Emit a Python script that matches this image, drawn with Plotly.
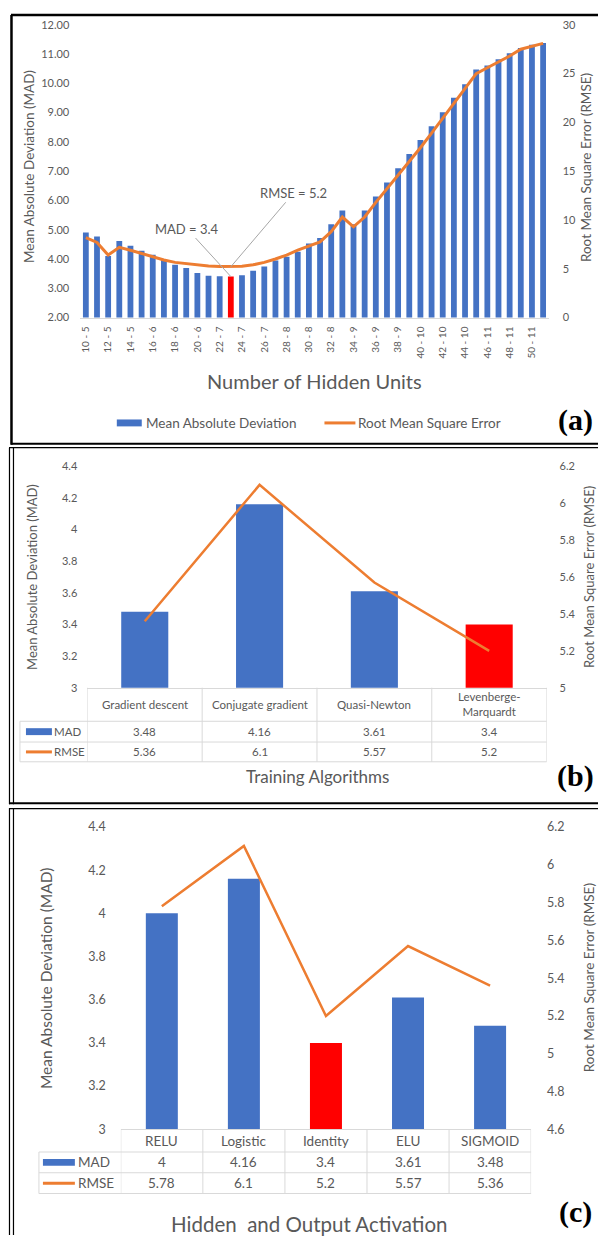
import plotly.graph_objects as go

W, H = 598, 1242
def PX(x): return x / W
def PY(y): return 1 - y / H

BLUE = "#4472C4"
ORANGE = "#ED7D31"
RED = "#FF0000"
GREY = "#595959"
GRID = "#D9D9D9"
FONT = "Lato"

# ---------------- Panel (a) data ----------------
hidden_units = ["10 - 5", "11 - 5", "12 - 5", "13 - 5", "14 - 5", "15 - 5",
                "16 - 6", "17 - 6", "18 - 6", "19 - 6", "20 - 6", "21 - 6",
                "22 - 7", "23 - 7", "24 - 7", "25 - 7", "26 - 7", "27 - 7",
                "28 - 8", "29 - 8", "30 - 8", "31 - 8", "32 - 8", "33 - 8",
                "34 - 9", "35 - 9", "36 - 9", "37 - 9", "38 - 9", "39 - 9",
                "40 - 10", "41 - 10", "42 - 10", "43 - 10", "44 - 10", "45 - 10",
                "46 - 11", "47 - 11", "48 - 11", "49 - 11", "50 - 11", "51 - 11"]
mad_a = [4.90, 4.77, 4.10, 4.61, 4.45, 4.28, 4.14, 3.97, 3.80, 3.69, 3.52, 3.43,
         3.41, 3.40, 3.44, 3.60, 3.74, 3.95, 4.08, 4.25, 4.53, 4.72, 5.19, 5.66,
         5.19, 5.66, 6.13, 6.61, 7.10, 7.59, 8.06, 8.53, 9.01, 9.51, 9.97, 10.47,
         10.61, 10.82, 11.03, 11.21, 11.32, 11.38]
rmse_a = [8.2, 7.7, 6.4, 7.2, 6.9, 6.55, 6.2, 5.9, 5.65, 5.5, 5.35, 5.27,
          5.22, 5.2, 5.25, 5.4, 5.65, 6.0, 6.4, 6.9, 7.35, 7.75, 8.8, 10.3,
          9.3, 10.3, 11.8, 13.2, 14.5, 16.0, 17.4, 18.9, 20.4, 21.9, 23.5, 25.0,
          25.6, 26.2, 26.8, 27.5, 27.8, 28.1]
best_a = "23 - 7"
mad_ticks_a = [2, 3, 4, 5, 6, 7, 8, 9, 10, 11, 12]
rmse_ticks_a = [0, 5, 10, 15, 20, 25, 30]
series_names = ["Mean Absolute Deviation", "Root Mean Square Error"]

# ---------------- Panel (b) data ----------------
algorithms = ["Gradient descent", "Conjugate gradient", "Quasi-Newton", "Levenberge-Marquardt"]
algorithm_header = ["Gradient descent", "Conjugate gradient", "Quasi-Newton", "Levenberge-<br>Marquardt"]
mad_b = [3.48, 4.16, 3.61, 3.4]
rmse_b = [5.36, 6.1, 5.57, 5.2]
best_b = "Levenberge-Marquardt"
mad_ticks_b = [3, 3.2, 3.4, 3.6, 3.8, 4, 4.2, 4.4]
rmse_ticks_b = [5, 5.2, 5.4, 5.6, 5.8, 6, 6.2]

# ---------------- Panel (c) data ----------------
activations = ["RELU", "Logistic", "Identity", "ELU", "SIGMOID"]
mad_c = [4, 4.16, 3.4, 3.61, 3.48]
rmse_c = [5.78, 6.1, 5.2, 5.57, 5.36]
best_c = "Identity"
mad_ticks_c = [3, 3.2, 3.4, 3.6, 3.8, 4, 4.2, 4.4]
rmse_ticks_c = [4.6, 4.8, 5, 5.2, 5.4, 5.6, 5.8, 6, 6.2]

fig = go.Figure()

# Panel (a) traces
fig.add_trace(go.Bar(x=hidden_units, y=mad_a, name=series_names[0], showlegend=False,
                     marker=dict(color=[RED if c == best_a else BLUE for c in hidden_units], line_width=0),
                     width=0.52, xaxis="x", yaxis="y"))
fig.add_trace(go.Scatter(x=hidden_units, y=rmse_a, name=series_names[1], mode="lines", showlegend=False,
                         line=dict(color=ORANGE, width=3), xaxis="x", yaxis="y2"))
# Panel (b) traces
fig.add_trace(go.Bar(x=algorithms, y=mad_b, showlegend=False, name="MAD",
                     marker=dict(color=[RED if c == best_b else BLUE for c in algorithms], line_width=0),
                     width=0.41, xaxis="x2", yaxis="y3"))
fig.add_trace(go.Scatter(x=algorithms, y=rmse_b, mode="lines", showlegend=False, name="RMSE",
                         line=dict(color=ORANGE, width=2.5), xaxis="x2", yaxis="y4"))
# Panel (c) traces
fig.add_trace(go.Bar(x=activations, y=mad_c, showlegend=False, name="MAD",
                     marker=dict(color=[RED if c == best_c else BLUE for c in activations], line_width=0),
                     width=0.39, xaxis="x3", yaxis="y5"))
fig.add_trace(go.Scatter(x=activations, y=rmse_c, mode="lines", showlegend=False, name="RMSE",
                         line=dict(color=ORANGE, width=2.5), xaxis="x3", yaxis="y6"))

# geometry (pixels)
A_X0, A_X1, A_Y0, A_Y1 = 79.4, 548.6, 313.3, 17
B_X0, B_X1, B_Y0, B_Y1 = 86.5, 546.5, 688, 464
C_X0, C_X1, C_Y0, C_Y1 = 120, 531, 1135, 829

def yax(dom, rng, ticks, size, standoff, fmt=None, **kw):
    d = dict(domain=dom, range=rng, tickmode="array", tickvals=ticks,
             ticktext=[(fmt % t) if fmt else f"{t:g}" for t in ticks],
             showgrid=False, zeroline=False, showline=False, ticks="",
             tickfont=dict(size=size, color=GREY, family=FONT), ticklabelstandoff=standoff)
    d.update(kw)
    return d

fig.update_layout(
    width=W, height=H, autosize=False,
    margin=dict(l=0, r=0, t=0, b=0),
    paper_bgcolor="white", plot_bgcolor="white",
    font=dict(family=FONT, color=GREY),
    showlegend=False,
    xaxis=dict(domain=[PX(A_X0), PX(A_X1)], anchor="y", type="category", range=[-0.5, len(hidden_units) - 0.5],
               tickmode="array", tickvals=hidden_units[::2], tickangle=-90, ticks="",
               tickfont=dict(size=10, color=GREY, family=FONT), showline=True, linecolor=GRID,
               showgrid=False, zeroline=False, ticklabelstandoff=4),
    yaxis=yax([PY(A_Y0), PY(A_Y1)], [2, 12], mad_ticks_a, 11, 10, fmt="%.2f", anchor="x"),
    yaxis2=yax([PY(A_Y0), PY(A_Y1)], [0, 30], rmse_ticks_a, 11, 13, overlaying="y", side="right", anchor="x"),
    xaxis2=dict(domain=[PX(B_X0), PX(B_X1)], anchor="y3", type="category", range=[-0.5, len(algorithms) - 0.5],
                showticklabels=False, ticks="", showline=True, linecolor=GRID, showgrid=False, zeroline=False),
    yaxis3=yax([PY(B_Y0), PY(B_Y1)], [3, 4.4], mad_ticks_b, 11, 9, anchor="x2"),
    yaxis4=yax([PY(B_Y0), PY(B_Y1)], [5, 6.2], rmse_ticks_b, 11, 12, overlaying="y3", side="right", anchor="x2"),
    xaxis3=dict(domain=[PX(C_X0), PX(C_X1)], anchor="y5", type="category", range=[-0.5, len(activations) - 0.5],
                showticklabels=False, ticks="", showline=True, linecolor=GRID, showgrid=False, zeroline=False),
    yaxis5=yax([PY(C_Y0), PY(C_Y1)], [3, 4.4], mad_ticks_c, 12.5, 14, anchor="x3"),
    yaxis6=yax([PY(C_Y0), PY(C_Y1)], [4.6, 6.2], rmse_ticks_c, 12.5, 15, overlaying="y5", side="right", anchor="x3"),
)

ann = []
shapes = []

def text(x, y, s, size, color=GREY, angle=0, xref="paper", yref="paper", xanchor="center",
         yanchor="middle", family=FONT):
    ann.append(dict(x=x, y=y, xref=xref, yref=yref, text=s, showarrow=False, textangle=angle,
                    xanchor=xanchor, yanchor=yanchor,
                    font=dict(size=size, color=color, family=family)))

# ---- Panel (a) texts ----
text(PX(28), PY(160), "Mean Absolute Deviation (MAD)", 13.5, angle=-90)
text(PX(586), PY(162), "Root Mean Square Error (RMSE)", 13.5, angle=-90)
text(PX(314), PY(378), "Number of Hidden Units", 20)
text(PX(575), PY(417), "<b>(a)</b>", 30, color="black", family="Liberation Serif")
# legend of panel (a)
shapes.append(dict(type="rect", xref="paper", yref="paper", x0=PX(116), x1=PX(141),
                   y0=PY(416.5), y1=PY(423.5), fillcolor=BLUE, line_width=0))
text(PX(143), PY(420), series_names[0], 13.5, xanchor="left")
shapes.append(dict(type="line", xref="paper", yref="paper", x0=PX(324), x1=PX(355),
                   y0=PY(420), y1=PY(420), line=dict(color=ORANGE, width=3)))
text(PX(356), PY(420), series_names[1], 13.5, xanchor="left")

bi = hidden_units.index(best_a)
ann.append(dict(x=best_a, y=mad_a[bi], xref="x", yref="y", text=f"MAD = {mad_a[bi]:g}",
                showarrow=True, arrowhead=0, arrowwidth=1, arrowcolor="#A6A6A6", ax=-44, ay=-48,
                font=dict(size=13, color=GREY, family=FONT)))
ann.append(dict(x=best_a, y=rmse_a[bi], xref="x", yref="y2", text=f"RMSE = {rmse_a[bi]:g}",
                showarrow=True, arrowhead=0, arrowwidth=1, arrowcolor="#A6A6A6", ax=63, ay=-74,
                font=dict(size=13, color=GREY, family=FONT)))

# ---- Panel (b) texts ----
text(PX(31), PY(576), "Mean Absolute Deviation (MAD)", 13, angle=-90)
text(PX(589), PY(576), "Root Mean Square Error (RMSE)", 13, angle=-90)
text(PX(317), PY(778), "Training Algorithms", 17)
text(PX(575), PY(777), "<b>(b)</b>", 30, color="black", family="Liberation Serif")

# ---- Panel (c) texts ----
text(PX(45), PY(982), "Mean Absolute Deviation (MAD)", 15.5, angle=-90)
text(PX(589), PY(982), "Root Mean Square Error (RMSE)", 13.5, angle=-90)
text(PX(309), PY(1231), "Hidden\u00a0 and Output Activation", 20.5)
text(PX(575), PY(1219), "<b>(c)</b>", 30, color="black", family="Liberation Serif")

# ---- data tables ----
def data_table(cats, headers, mad, rmse, xref, x_left_px, x1_px, top, hdr_bot, mad_bot, rmse_bot,
               size, key_x0, key_x1, key_text_x):
    for c, h, m, r in zip(cats, headers, mad, rmse):
        text(c, PY((top + hdr_bot) / 2), h, size, xref=xref)
        text(c, PY((hdr_bot + mad_bot) / 2), f"{m:g}", size, xref=xref)
        text(c, PY((mad_bot + rmse_bot) / 2), f"{r:g}", size, xref=xref)
    ln = dict(color=GRID, width=1)
    for i in range(len(cats) + 1):
        shapes.append(dict(type="line", xref=xref, yref="paper", x0=i - 0.5, x1=i - 0.5,
                           y0=PY(top), y1=PY(rmse_bot), line=ln))
    shapes.append(dict(type="line", xref="paper", yref="paper", x0=PX(x_left_px), x1=PX(x_left_px),
                       y0=PY(hdr_bot), y1=PY(rmse_bot), line=ln))
    for yy in (hdr_bot, mad_bot, rmse_bot):
        shapes.append(dict(type="line", xref="paper", yref="paper", x0=PX(x_left_px), x1=PX(x1_px),
                           y0=PY(yy), y1=PY(yy), line=ln))
    ym = (hdr_bot + mad_bot) / 2
    yr = (mad_bot + rmse_bot) / 2
    shapes.append(dict(type="rect", xref="paper", yref="paper", x0=PX(key_x0), x1=PX(key_x1),
                       y0=PY(ym - 3.5), y1=PY(ym + 3.5), fillcolor=BLUE, line_width=0))
    shapes.append(dict(type="line", xref="paper", yref="paper", x0=PX(key_x0), x1=PX(key_x1),
                       y0=PY(yr), y1=PY(yr), line=dict(color=ORANGE, width=3)))
    text(PX(key_text_x), PY(ym), "MAD", size, xanchor="left")
    text(PX(key_text_x), PY(yr), "RMSE", size, xanchor="left")

data_table(algorithms, algorithm_header, mad_b, rmse_b, "x2", 19, B_X1,
           B_Y0, 722, 743, 763, 11.5, 25, 51, 51)
data_table(activations, activations, mad_c, rmse_c, "x3", 38, C_X1,
           C_Y0, 1158, 1179, 1200, 13.5, 42, 74, 75)

# ---- panel frames ----
def hline(y, x0, x1, w):
    shapes.append(dict(type="line", xref="paper", yref="paper", x0=PX(x0), x1=PX(x1), y0=PY(y), y1=PY(y),
                       line=dict(color="black", width=w)))
def vline(x, y0, y1, w):
    shapes.append(dict(type="line", xref="paper", yref="paper", x0=PX(x), x1=PX(x), y0=PY(y0), y1=PY(y1),
                       line=dict(color="black", width=w)))

hline(7, 10, 600, 2.5)
vline(10.5, 7, 442, 2.5)
hline(441, 10, 600, 2)
hline(445, 8, 600, 1.2)
vline(8.5, 445, 806, 1.2)
vline(12.5, 445, 806, 1.2)
hline(805, 8, 600, 2)
hline(810.5, 8, 600, 1.2)
vline(8.5, 810, 1242, 1.2)
vline(12.5, 810, 1242, 1.2)

fig.update_layout(annotations=ann, shapes=shapes)
fig.write_html("out.html", config={"displayModeBar": False},
               post_script="document.body.style.margin='0';document.body.style.padding='0';"
                           "document.documentElement.style.overflow='hidden';")
